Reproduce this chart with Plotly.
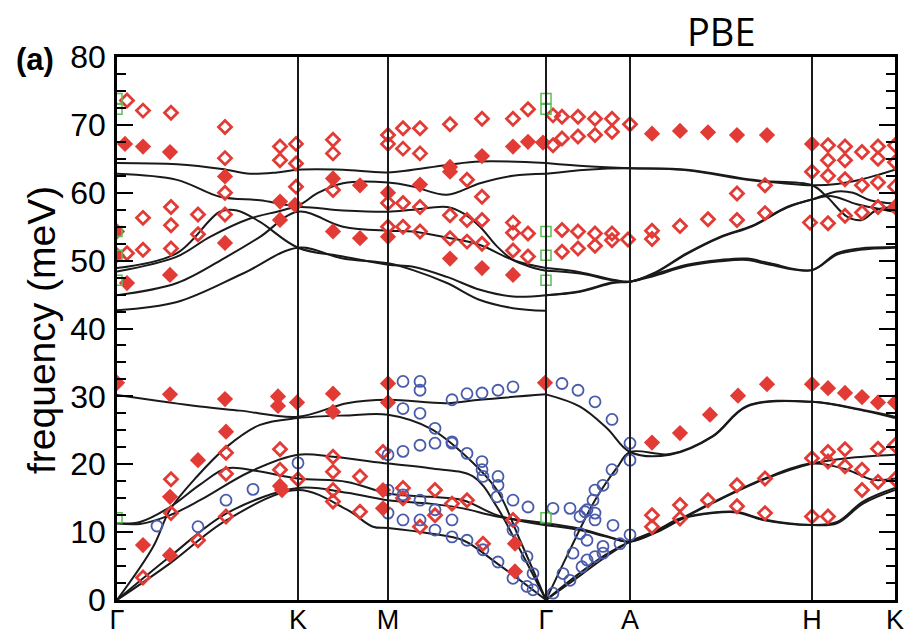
import plotly.graph_objects as go

# ---------------- data ----------------
SYM_POS = [0, 181, 271, 429, 513, 695, 778]
SYM_LABELS = ["Γ", "K", "M", "Γ", "A", "H", "K"]
Y_TICKS = [0, 10, 20, 30, 40, 50, 60, 70, 80]

# calculated branches, segment Γ-K-M-Γ  (q, E meV)
U1 = [(0,64.4),(60,64.2),(105,63.5),(133,62.8),(160,63.0),(181,63.4),(226,63.4),(271,63.0),(330,64.1),(363,64.6),(429,64.4)]
U2 = [(0,62.8),(60,61.9),(103,59.4),(143,58.9),(181,58.2),(200,59.9),(226,61.4),(271,61.5),(296,60.9),(330,59.7),(363,61.4),(396,62.5),(429,62.8)]
U3 = [(0,48.9),(60,51.1),(103,57.2),(120,57.4),(143,55.7),(181,51.9),(226,50.6),(271,49.4),(296,49.1),(330,47.6),(363,45.7),(396,44.7),(429,44.9)]
U4 = [(0,48.4),(60,50.6),(93,53.5),(133,56.2),(160,57.2),(181,57.9),(226,57.4),(271,57.2),(296,57.5),(330,57.9),(346,57.0),(363,55.0),(380,52.1),(396,50.1),(413,49.1),(429,48.5)]
U5 = [(0,44.9),(60,46.7),(110,50.6),(143,53.5),(181,57.2),(226,55.0),(271,54.4),(296,54.3),(330,53.4),(363,52.3),(396,50.1),(429,48.9)]
U6 = [(0,42.7),(60,43.9),(126,48.1),(181,51.9),(226,50.3),(271,49.6),(296,48.6),(330,46.7),(363,44.2),(396,43.0),(429,42.6)]
L1 = [(0,30.2),(83,28.5),(123,27.9),(181,27.0),(230,29.0),(271,29.5),(330,29.0),(363,29.5),(429,30.3)]
L2 = [(0,0),(36,7.8),(53,13.3),(80,18.2),(110,22.6),(143,25.8),(181,26.8),(230,27.2),(271,27.3),(313,25.3),(346,21.6),(380,16.2),(403,8.8),(429,0)]
L3 = [(0,11.3),(23,11.5),(53,13.7),(83,17.0),(110,19.4),(140,19.0),(181,17.9),(230,17.4),(271,15.7),(313,15.2),(346,14.7),(380,12.5),(429,11.0)]
L4 = [(0,11.3),(23,11.2),(53,12.5),(83,14.7),(133,18.9),(181,21.4),(216,21.1),(271,20.1),(313,19.4),(356,18.2),(380,13.7),(403,7.4),(429,0)]
L5 = [(0,0),(53,6.4),(110,12.8),(181,16.5),(230,15.8),(271,14.7),(313,14.2),(346,13.5),(380,12.3),(429,11.3)]
L6 = [(0,0),(53,5.4),(110,11.8),(181,16.2),(230,13.3),(256,10.8),(271,10.6),(313,9.8),(346,8.8),(380,5.4),(429,0)]

# segment Γ-A-H-K
R1 = [(429,64.4),(470,63.9),(513,63.6),(570,63.4),(636,61.9),(695,61.1),(720,61.3),(745,62.0),(760,62.6),(778,63.4)]
R2 = [(429,62.8),(470,63.4),(513,63.6),(570,63.3),(636,61.8),(695,61.1),(710,59.4),(730,56.5),(745,56.0),(760,57.5),(778,57.9)]
R3 = [(429,48.5),(463,48.1),(496,47.1),(513,46.9),(536,48.1),(570,51.1),(603,53.5),(636,55.2),(670,57.9),(695,59.0),(720,60.2),(736,60.0),(753,58.9),(778,58.4)]
R4 = [(429,48.9),(463,48.3),(496,47.2),(513,46.9),(536,48.0),(570,51.0),(603,53.4),(636,55.1),(670,57.8),(695,59.0),(715,59.5),(740,58.3),(778,57.2)]
R5 = [(429,44.9),(463,45.4),(496,46.7),(513,46.9),(536,47.9),(570,49.4),(603,50.1),(630,50.3),(653,49.6),(695,48.6),(720,51.1),(743,51.8),(778,52.0)]
R6 = [(429,44.9),(463,45.5),(496,46.8),(513,46.9),(536,47.7),(570,49.2),(603,49.9),(630,50.1),(653,49.4),(695,48.6),(720,50.9),(743,51.6),(778,51.9)]
RL1 = [(429,30.3),(463,28.5),(490,25.3),(513,21.8),(553,21.4),(596,24.1),(630,28.5),(695,29.2),(746,28.0),(778,27.0)]
RL2 = [(429,0),(450,6.5),(478,14.7),(500,19.5),(513,21.8),(553,21.5),(596,24.2),(630,28.6),(695,29.2),(746,27.9),(778,26.8)]
RL3 = [(429,11.0),(463,10.3),(490,9.3),(513,8.6),(540,10.0),(563,11.8),(596,14.3),(646,17.7),(695,20.1),(730,20.9),(778,21.4)]
RL4 = [(429,11.3),(463,10.5),(490,9.4),(513,8.6),(540,10.2),(563,11.9),(596,12.8),(620,12.9),(646,11.8),(695,11.05),(720,11.5),(746,14.5),(778,16.5)]
RL5 = [(429,0),(463,4.0),(490,6.8),(513,8.6),(540,10.1),(563,11.9),(596,14.4),(646,17.8),(695,20.1),(730,19.2),(756,17.7),(778,17.9)]
RL6 = [(429,0),(463,3.6),(490,6.5),(513,8.6),(540,10.3),(563,12.0),(596,12.9),(620,13.0),(646,11.9),(695,11.05),(720,11.3),(746,14.2),(778,16.2)]

BRANCHES = [U1, U2, U3, U4, U5, U6, L1, L2, L3, L4, L5, L6,
            R1, R2, R3, R4, R5, R6, RL1, RL2, RL3, RL4, RL5, RL6]

# experiment: filled red diamonds
EXP_FILLED = [(8,67.2),(26,66.8),(53,66.0),(108,62.4),(163,58.7),(178,58.2),(0,54.3),(0,50.8),(10,46.7),(53,47.9),(108,52.6),(163,56.0),
              (0,32.0),(53,30.3),(108,29.6),(161,30.0),(161,28.6),(180,29.1),(26,8.1),(53,15.2),(53,6.6),(81,20.6),(109,24.8),(163,16.8),(165,16.2),
              (216,62.1),(243,61.1),(271,60.0),(303,61.2),(333,63.8),(333,63.1),(365,65.4),(396,66.8),(411,67.5),(426,67.4),
              (216,54.3),(243,53.3),(271,53.5),(333,50.3),(365,48.9),(396,47.9),
              (271,31.9),(216,30.4),(216,27.7),(271,29.1),(428,32.0),(266,16.2),(266,13.5),(398,8.3),(398,4.2),
              (535,68.7),(563,69.1),(591,68.9),(620,68.5),(650,68.5),(695,67.2),(778,57.9),
              (593,27.3),(621,30.1),(650,31.8),(695,31.8),(711,31.2),(728,30.5),(745,29.9),(761,29.1),(778,29.1),(535,23.2),(563,24.6)]

# experiment: open red diamonds
EXP_OPEN = [(10,73.6),(26,72.1),(54,71.8),(108,69.7),(108,65.1),(108,60.0),(108,56.8),(163,66.8),(163,64.8),(179,67.2),(179,64.3),(179,60.9),
            (54,57.9),(26,56.3),(81,56.8),(54,55.2),(81,53.9),(54,51.8),(26,51.6),(10,51.1),
            (54,17.8),(54,12.8),(26,3.3),(81,8.8),(109,21.7),(109,18.6),(109,12.3),(163,22.2),(163,19.2),(181,17.8),
            (216,67.8),(216,65.8),(216,60.4),(271,68.5),(271,67.2),(286,69.5),(286,66.5),(303,69.5),(303,65.8),(333,70.1),(365,70.9),(396,70.9),(411,72.3),
            (350,61.9),(365,59.4),(271,58.5),(286,58.5),(303,57.9),(333,56.7),(350,56.0),(365,56.0),(271,55.0),(286,55.0),(303,54.3),(333,53.3),(350,52.8),(365,52.5),
            (396,55.6),(396,54.1),(411,54.0),(396,51.5),(411,50.6),
            (436,71.4),(445,71.2),(461,71.2),(478,70.9),(495,70.9),(513,70.1),(436,67.0),(445,68.0),(461,68.3),(478,68.5),(495,69.0),
            (445,54.5),(461,54.3),(478,54.0),(495,54.0),(495,53.0),(511,53.1),(535,54.4),(535,53.2),(563,55.1),(591,56.1),(620,56.0),(648,57.0),(620,59.9),(648,61.1),
            (445,51.3),(461,51.8),(478,52.2),
            (711,67.0),(728,66.8),(745,66.0),(761,66.8),(778,67.0),(711,64.8),(728,64.8),(761,65.0),(778,64.5),
            (695,63.1),(711,62.5),(728,62.0),(745,61.1),(761,61.5),(778,60.9),(693,55.6),(711,55.5),(728,56.6),(745,57.1),(761,57.9),
            (535,12.5),(535,10.8),(563,14.0),(563,12.0),(591,14.7),(620,16.9),(620,13.8),(648,17.9),(648,12.8),
            (695,20.9),(711,21.8),(711,20.4),(728,22.2),(728,19.7),(745,19.2),(745,16.2),(761,22.3),(761,17.4),(778,22.8),(778,17.8),(695,12.3),(711,12.3),
            (216,21.1),(216,18.9),(216,16.2),(216,14.5),(243,18.2),(243,13.0),(266,21.8),(286,16.5),(286,15.0),(303,10.8),(318,16.2),(318,12.5),(335,14.2),(350,14.7),(366,8.3),(396,11.8)]

# experiment: open blue circles
EXP_BLUE = [(40,10.9),(81,10.8),(109,14.7),(136,16.3),(181,20.2),
            (271,21.4),(286,21.9),(303,22.8),(318,23.1),(335,23.1),(350,21.6),(365,20.4),(365,19.2),(381,18.2),(381,16.9),(396,14.7),(411,13.7),
            (286,32.2),(303,32.2),(303,30.9),(335,29.5),(350,30.4),(365,30.5),(381,30.9),(396,31.4),(445,31.9),(461,30.9),(478,29.2),(495,26.6),(513,23.1),
            (286,28.2),(303,27.5),(318,25.3),(335,23.3),(366,18.2),(380,15.2),(396,10.3),(410,6.4),(416,3.9),(416,1.5),
            (271,16.2),(271,12.8),(286,15.5),(286,11.8),(303,14.7),(303,11.8),(318,13.3),(318,10.3),(335,11.8),(335,9.3),(350,8.8),(366,7.4),(381,5.6),(396,3.2),(410,2.0),
            (436,13.5),(453,13.5),(468,13.0),(478,12.8),(436,1.0),(446,3.9),(453,2.9),(456,6.9),(463,9.8),(465,4.9),(476,14.7),(478,16.2),(478,6.4),
            (463,12.3),(478,11.8),(496,11.0),(513,9.6),(470,8.8),(486,7.9),(503,8.3),(470,5.9),(486,6.9),(486,16.9),(495,19.2),(513,20.6),(470,13.3)]

# Raman (green squares) at Γ
RAMAN_Q = [0, 429]
RAMAN_E = [73.9, 72.3, 54.3, 50.8, 47.1, 12.1]

RED = "#e23b36"
BLUE = "#4a5bab"
GREEN = "#5dbf55"
LINE = "#1a1a1a"
FONT = "Liberation Sans, Arial, sans-serif"

fig = go.Figure()

for br in BRANCHES:
    fig.add_trace(go.Scatter(x=[p[0] for p in br], y=[p[1] for p in br], mode="lines",
                             line=dict(color=LINE, width=2.0, shape="spline", smoothing=1.0),
                             hoverinfo="skip", showlegend=False))

fig.add_trace(go.Scatter(x=[p[0] for p in EXP_OPEN], y=[p[1] for p in EXP_OPEN], mode="markers",
                         marker=dict(symbol="diamond-open", size=10, color=RED, line=dict(width=2.8, color=RED)),
                         showlegend=False))
fig.add_trace(go.Scatter(x=[p[0] for p in EXP_BLUE], y=[p[1] for p in EXP_BLUE], mode="markers",
                         marker=dict(symbol="circle-open", size=11, color=BLUE, line=dict(width=1.8, color=BLUE)),
                         showlegend=False))
fig.add_trace(go.Scatter(x=[p[0] for p in EXP_FILLED], y=[p[1] for p in EXP_FILLED], mode="markers",
                         marker=dict(symbol="diamond", size=12.5, color=RED, line=dict(width=0)),
                         showlegend=False))
rq, re_ = [], []
for q in RAMAN_Q:
    for e in RAMAN_E:
        rq.append(q)
        re_.append(e)
fig.add_trace(go.Scatter(x=rq, y=re_, mode="markers",
                         marker=dict(symbol="square-open", size=10, color=GREEN, line=dict(width=1.5, color=GREEN)),
                         showlegend=False))

for xv in SYM_POS[1:-1]:
    fig.add_shape(type="line", x0=xv, x1=xv, y0=0, y1=1, xref="x", yref="paper",
                  line=dict(color=LINE, width=2))

fig.update_layout(
    width=911, height=642,
    margin=dict(l=117, r=16, t=57, b=42, autoexpand=False),
    paper_bgcolor="white", plot_bgcolor="white",
    font=dict(family=FONT, color="black"),
    xaxis=dict(range=[SYM_POS[0], SYM_POS[-1]], tickvals=SYM_POS, ticktext=SYM_LABELS,
               showgrid=False, zeroline=False, showline=True, linecolor="black", linewidth=2.5,
               mirror=True, ticks="", tickfont=dict(size=27), ticklabelstandoff=-6, automargin=False),
    yaxis=dict(range=[0, 80], tickvals=Y_TICKS, showgrid=False, zeroline=False,
               showline=True, linecolor="black", linewidth=2.5, mirror="allticks",
               ticks="inside", ticklen=16, tickwidth=1.5, tickcolor="black",
               minor=dict(dtick=2.5, ticks="inside", ticklen=9, tickwidth=1.5, tickcolor="black"),
               tickfont=dict(size=32), ticklabelstandoff=2, automargin=False),
)

fig.add_annotation(text="frequency (meV)", xref="paper", yref="paper", x=(42 - 117) / 778, y=(600 - 330) / 543,
                   textangle=-90, showarrow=False, xanchor="center", yanchor="middle",
                   font=dict(size=39, family=FONT))
fig.add_annotation(text="<b>(a)</b>", xref="paper", yref="paper", x=(35 - 117) / 778, y=(600 - 60) / 543,
                   showarrow=False, xanchor="center", yanchor="middle",
                   font=dict(size=31, family=FONT))
fig.add_annotation(text="PBE", xref="paper", yref="paper", x=(721 - 117) / 778, y=(600 - 31) / 543,
                   showarrow=False, xanchor="center", yanchor="middle",
                   font=dict(size=38, family="Open Sans, sans-serif"))

fig.write_html("out.html")
